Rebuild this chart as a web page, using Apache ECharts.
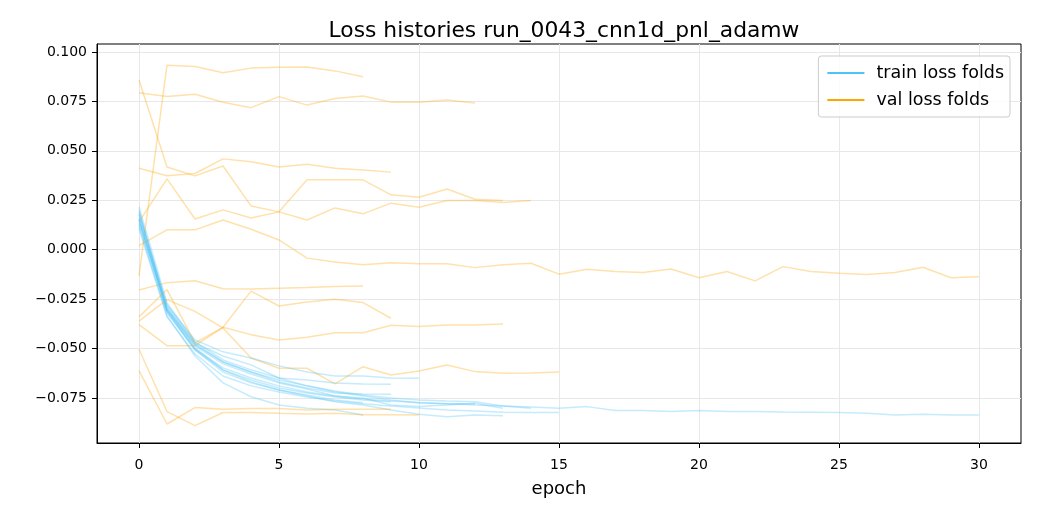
<!DOCTYPE html>
<html><head><meta charset="utf-8">
<script src="https://cdn.jsdelivr.net/npm/echarts@6/dist/echarts.min.js"></script>
<style>html,body{margin:0;padding:0;background:#fff}#c{width:1040px;height:520px}</style>
</head><body><div id="c"></div>
<script>
const chartTitle = 'Loss histories run_0043_cnn1d_pnl_adamw';
const xLabel = 'epoch';
const xTicks = [0, 5, 10, 15, 20, 25, 30];
const yTicks = [-0.075, -0.05, -0.025, 0, 0.025, 0.05, 0.075, 0.1];
const trainName = 'train loss folds';
const valName = 'val loss folds';

// train loss per fold
const train1 = [0.0216,-0.0270,-0.0467,-0.0558,-0.0608,-0.0649,-0.0689,-0.0720,-0.0740,-0.0760,-0.0775,-0.0780,-0.0780];
const train2 = [0.0120,-0.0335,-0.0538,-0.0674,-0.0744,-0.0786,-0.0802,-0.0811,-0.0836];
const train3 = [0.0201,-0.0305,-0.0482,-0.0568,-0.0619,-0.0669,-0.0700,-0.0725,-0.0730,-0.0731];
const train4 = [0.0140,-0.0300,-0.0487,-0.0578,-0.0629,-0.0674,-0.0705,-0.0740,-0.0750,-0.0786,-0.0794,-0.0786,-0.0777,-0.0802];
const train5 = [0.0181,-0.0285,-0.0477,-0.0568,-0.0619,-0.0659,-0.0689,-0.0715,-0.0735,-0.0750,-0.0760,-0.0765,-0.0769,-0.0791,-0.0802];
const train6 = [0.0155,-0.0310,-0.0502,-0.0598,-0.0649,-0.0689,-0.0720,-0.0740,-0.0755,-0.0765,-0.0775,-0.0780,-0.0786,-0.0791,-0.0796,-0.0802,-0.0794,-0.0814,-0.0814,-0.0819,-0.0814,-0.0819,-0.0819,-0.0821,-0.0822,-0.0824,-0.0827,-0.0836,-0.0833,-0.0836,-0.0836];
const train7 = [0.0160,-0.0315,-0.0507,-0.0619,-0.0674,-0.0710,-0.0735,-0.0760,-0.0774];
const train8 = [0.0130,-0.0320,-0.0507,-0.0608,-0.0659,-0.0700,-0.0725,-0.0745,-0.0760,-0.0770];
const train9 = [0.0191,-0.0305,-0.0497,-0.0608,-0.0669,-0.0710,-0.0740,-0.0770,-0.0786,-0.0811,-0.0833,-0.0845,-0.0836,-0.0840];
const train10 = [0.0105,-0.0340,-0.0528,-0.0639,-0.0689,-0.0720,-0.0745,-0.0765,-0.0780,-0.0791,-0.0801,-0.0811,-0.0816,-0.0822,-0.0824,-0.0824];
const train11 = [0.0176,-0.0280,-0.0457,-0.0517,-0.0548,-0.0588,-0.0619,-0.0639,-0.0639,-0.0649,-0.0651];
const train12 = [0.0150,-0.0295,-0.0472,-0.0538,-0.0583,-0.0649,-0.0659,-0.0674,-0.0679,-0.0681];

// val loss per fold
const val1 = [0.0794,0.0774,0.0786,0.0745,0.0718,0.0774,0.0731,0.0764,0.0777,0.0746,0.0746,0.0757,0.0742];
const val2 = [-0.0133,0.0933,0.0926,0.0895,0.0918,0.0923,0.0924,0.0904,0.0874];
const val3 = [0.0412,0.0374,0.0385,0.0459,0.0445,0.0418,0.0432,0.0412,0.0403,0.0392];
const val4 = [0.0858,0.0418,0.0373,0.0423,0.0221,0.0191,0.0353,0.0353,0.0353,0.0277,0.0265,0.0307,0.0255,0.0248];
const val5 = [0.0140,0.0358,0.0155,0.0201,0.0160,0.0191,0.0150,0.0211,0.0181,0.0235,0.0214,0.0248,0.0248,0.0238,0.0248];
const val6 = [0.0020,0.0100,0.0100,0.0150,0.0103,0.0049,-0.0043,-0.0062,-0.0077,-0.0066,-0.0071,-0.0071,-0.0091,-0.0077,-0.0069,-0.0124,-0.0099,-0.0111,-0.0116,-0.0098,-0.0142,-0.0111,-0.0158,-0.0086,-0.0111,-0.0119,-0.0126,-0.0116,-0.0089,-0.0142,-0.0137];
const val7 = [-0.0204,-0.0167,-0.0157,-0.0198,-0.0199,-0.0195,-0.0192,-0.0187,-0.0184];
const val8 = [-0.0340,-0.0202,-0.0472,-0.0393,-0.0210,-0.0285,-0.0265,-0.0251,-0.0268,-0.0347];
const val9 = [-0.0379,-0.0486,-0.0486,-0.0393,-0.0430,-0.0457,-0.0443,-0.0420,-0.0420,-0.0382,-0.0389,-0.0381,-0.0381,-0.0376];
const val10 = [-0.0362,-0.0253,-0.0312,-0.0396,-0.0548,-0.0600,-0.0600,-0.0679,-0.0592,-0.0634,-0.0614,-0.0583,-0.0617,-0.0625,-0.0624,-0.0619];
const val11 = [-0.0504,-0.0819,-0.0890,-0.0824,-0.0824,-0.0828,-0.0831,-0.0828,-0.0835,-0.0835,-0.0836];
const val12 = [-0.0612,-0.0882,-0.0799,-0.0807,-0.0804,-0.0804,-0.0811,-0.0807,-0.0807,-0.0807];

const trainFolds = [train1,train2,train3,train4,train5,train6,train7,train8,train9,train10,train11,train12];
const valFolds = [val1,val2,val3,val4,val5,val6,val7,val8,val9,val10,val11,val12];

const TRAIN_COLOR = '#4FC3F7';
const VAL_COLOR = '#FFA500';
const FONT = 'DejaVu Sans';

function toPairs(arr) { return arr.map((v, i) => [i, v]); }
function mkSeries(arr, name, color) {
  return {
    type: 'line', name: name, data: toPairs(arr),
    showSymbol: false, symbol: 'none', silent: true, animation: false,
    itemStyle: { color: color },
    lineStyle: { color: color, width: 1.5, opacity: 0.33 },
    emphasis: { disabled: true }
  };
}
const series = [];
for (let k = 0; k < trainFolds.length; k++) {
  series.push(mkSeries(trainFolds[k], trainName, TRAIN_COLOR));
  series.push(mkSeries(valFolds[k], valName, VAL_COLOR));
}
function fmtY(v) {
  const s = v.toFixed(3);
  return s.replace('-', '\u2212');
}
const chart = echarts.init(document.getElementById('c'), null, { renderer: 'canvas' });
chart.setOption({
  animation: false,
  backgroundColor: '#fff',
  title: {
    text: chartTitle, left: 559, top: 15, textAlign: 'center',
    textStyle: { fontFamily: FONT, fontSize: 21.8, fontWeight: 'normal', color: '#000' }
  },
  grid: { left: 97, top: 44, width: 924, height: 399, show: true, borderColor: '#000', borderWidth: 1, containLabel: false },
  legend: {
    orient: 'vertical', right: 30, top: 56,
    padding: [7, 6, 7, 9], itemGap: 7, itemWidth: 37, itemHeight: 2,
    backgroundColor: 'rgba(255,255,255,0.8)',
    borderColor: '#cccccc', borderWidth: 1, borderRadius: 3,
    icon: 'rect',
    textStyle: { fontFamily: FONT, fontSize: 17.5, color: '#000', padding: [0, 0, 0, 7], lineHeight: 20 },
    selectedMode: false,
    data: [
      { name: trainName, itemStyle: { color: TRAIN_COLOR, opacity: 1 } },
      { name: valName, itemStyle: { color: VAL_COLOR, opacity: 1 } }
    ]
  },
  xAxis: {
    type: 'value', min: -1.5, max: 31.5,
    name: xLabel, nameLocation: 'middle', nameGap: 37,
    nameTextStyle: { fontFamily: FONT, fontSize: 18, color: '#000' },
    axisLine: { show: true, onZero: false, lineStyle: { color: '#000', width: 1 } },
    axisTick: { show: true, length: 5, inside: false, lineStyle: { color: '#000' }, customValues: xTicks },
    axisLabel: { customValues: xTicks, fontFamily: FONT, fontSize: 14, color: '#000', margin: 15 },
    splitLine: { show: true, lineStyle: { color: '#e8e8e8', width: 1 } }
  },
  yAxis: {
    type: 'value', min: -0.0978, max: 0.1040,
    axisLine: { show: true, onZero: false, lineStyle: { color: '#000', width: 1 } },
    axisTick: { show: true, length: 5, inside: false, lineStyle: { color: '#000' }, customValues: yTicks },
    axisLabel: { customValues: yTicks, formatter: fmtY, fontFamily: FONT, fontSize: 14, color: '#000', margin: 10 },
    splitLine: { show: true, lineStyle: { color: '#e8e8e8', width: 1 } }
  },
  series: series
});
</script></body></html>
